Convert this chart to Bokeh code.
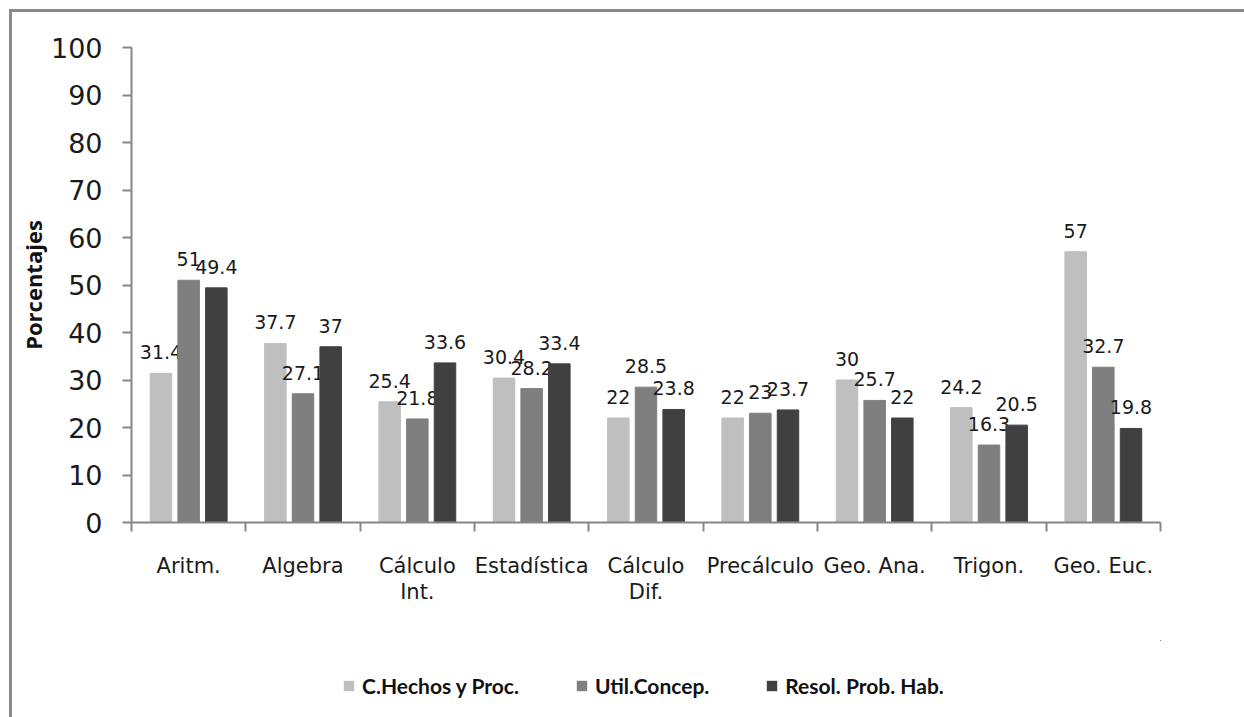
import numpy as np
from bokeh.plotting import figure
from bokeh.layouts import column
from bokeh.models import Range1d, FixedTicker, ColumnDataSource, Legend, LegendItem
from bokeh.core.properties import value
from bokeh.embed import file_html
from bokeh.resources import INLINE

# Áreas evaluadas y porcentajes por componente
categories = ["Aritm.", "Algebra", "Cálculo\nInt.", "Estadística", "Cálculo\nDif.",
              "Precálculo", "Geo. Ana.", "Trigon.", "Geo. Euc."]
hechos_proc = [31.4, 37.7, 25.4, 30.4, 22, 22, 30, 24.2, 57]
util_concep = [51, 27.1, 21.8, 28.2, 28.5, 23, 25.7, 16.3, 32.7]
resol_prob = [49.4, 37, 33.6, 33.4, 23.8, 23.7, 22, 20.5, 19.8]
series_names = ["C.Hechos y Proc.", "Util.Concep.", "Resol. Prob. Hab."]
y_ticks = list(range(0, 101, 10))

colors = ["#bfbfbf", "#7f7f7f", "#404040"]
offsets = [-0.242, 0.0, 0.242]
bar_w = 0.188
axis_grey = "#868686"
frame_grey = "#8a8a8a"

n = len(categories)
centers = np.arange(n) + 0.5

# Marco gris del área del gráfico, pintado detrás de los lienzos transparentes
left_edge = f"linear-gradient({frame_grey},{frame_grey}) 9px 0 / 3px 100% no-repeat"
top_edge = f"linear-gradient({frame_grey},{frame_grey}) 9px 9px / 100% 3px no-repeat"
top_css = (f"linear-gradient({frame_grey},{frame_grey}) 9px 9px / 3px 100% no-repeat, "
           f"{top_edge}, white")
bottom_css = f"{left_edge}, white"

p = figure(width=1244, height=640, output_backend="svg", toolbar_location=None,
           x_range=Range1d(0, n), y_range=Range1d(0, 100),
           min_border_left=131, min_border_right=84, min_border_top=47,
           min_border_bottom=118, styles={"background": top_css})
p.outline_line_color = None
p.xgrid.visible = False
p.ygrid.visible = False
p.background_fill_color = "white"
p.border_fill_alpha = 0

# Eje Y
ya = p.yaxis[0]
ya.ticker = FixedTicker(ticks=y_ticks)
ya.axis_line_color = axis_grey
ya.axis_line_width = 2
ya.major_tick_line_color = axis_grey
ya.major_tick_line_width = 2
ya.major_tick_out = 9
ya.major_tick_in = 0
ya.minor_tick_line_color = None
ya.major_label_text_font = "DejaVu Sans"
ya.major_label_text_font_size = "27px"
ya.major_label_text_color = "#1a1a1a"
ya.major_label_standoff = 20
ya.axis_label = "Porcentajes"
ya.axis_label_text_font = "Open Sans"
ya.axis_label_text_font_style = "bold"
ya.axis_label_text_font_size = "22px"
ya.axis_label_text_color = "#111111"
ya.axis_label_standoff = 0

# Eje X: marcas en los límites, etiquetas centradas
xa = p.xaxis[0]
xa.ticker = FixedTicker(ticks=list(centers), minor_ticks=list(np.arange(n + 1)))
xa.major_label_overrides = {float(c): lab for c, lab in zip(centers, categories)}
xa.axis_line_color = axis_grey
xa.axis_line_width = 2
xa.major_tick_line_color = None
xa.major_tick_out = 0
xa.major_tick_in = 0
xa.minor_tick_line_color = axis_grey
xa.minor_tick_line_width = 2
xa.minor_tick_out = 9
xa.minor_tick_in = 0
xa.major_label_text_font = "DejaVu Sans"
xa.major_label_text_font_size = "21px"
xa.major_label_text_color = "#1a1a1a"
xa.major_label_text_line_height = 1.1
xa.major_label_standoff = 22

sources = []
for vals, col, off in zip([hechos_proc, util_concep, resol_prob], colors, offsets):
    src = ColumnDataSource(dict(
        x=centers + off,
        top=vals,
        label=[f"{v:g}" for v in vals],
    ))
    sources.append(src)
    p.vbar(x="x", top="top", width=bar_w, bottom=0, source=src,
           fill_color=col, line_color=col, line_width=1)
    p.text(x="x", y="top", text="label", source=src,
           text_align="center", text_baseline="alphabetic", y_offset=-21,
           text_font=value("DejaVu Sans"), text_font_size="19px",
           text_color="#1a1a1a")

# Franja inferior con la leyenda; su ventana queda fuera del rango de las barras
lp = figure(width=1244, height=77, output_backend="svg", toolbar_location=None,
            x_range=Range1d(-30, -29), y_range=Range1d(-30, -29), min_border=0,
            styles={"background": bottom_css})
lp.axis.visible = False
lp.grid.visible = False
lp.outline_line_color = None
lp.background_fill_alpha = 0
lp.border_fill_alpha = 0

legend_items = []
for name, col, src in zip(series_names, colors, sources):
    r = lp.vbar(x="x", top="top", width=bar_w, bottom=0, source=src,
                fill_color=col, line_color=None)
    legend_items.append(LegendItem(label=name, renderers=[r]))

legend = Legend(items=legend_items, orientation="horizontal", location=(211, 19),
                glyph_width=13, glyph_height=13, label_standoff=7, spacing=56,
                padding=0, margin=0, border_line_color=None,
                label_text_font="Lato", label_text_font_style="bold",
                label_text_font_size="21px", label_text_color="#111111",
                background_fill_alpha=0)
lp.add_layout(legend, "center")

layout = column(p, lp, spacing=0)
open("out.html", "w").write(file_html(layout, INLINE))
